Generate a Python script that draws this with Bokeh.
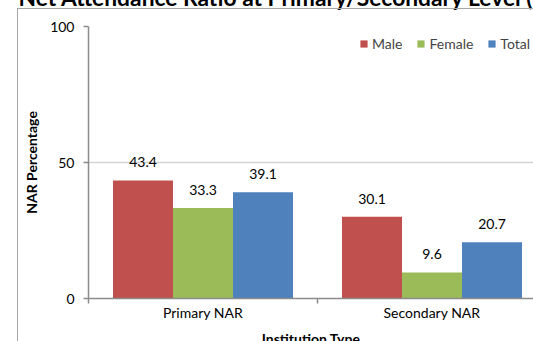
from bokeh.plotting import figure
from bokeh.models import (Range1d, FixedTicker, Legend, LegendItem, InlineStyleSheet, Title)
from bokeh.embed import file_html
from bokeh.resources import INLINE
from bokeh.core.properties import value

# ---- data ----
title = "Net Attendance Ratio at Primary/Secondary Level (NAR)"
categories = ["Primary NAR", "Secondary NAR"]
series = ["Male", "Female", "Total"]
male = [43.4, 30.1]
female = [33.3, 9.6]
total = [39.1, 20.7]
y_ticks = [0, 50, 100]
y_label = "NAR Percentage"
x_label = "Institution Type"

# ---- style ----
colors = ["#C0504D", "#9BBB59", "#4F81BD"]
FONT = "Lato"
FS = "14px"
AXIS_COLOR = "#8C8C8C"
bar_w = 0.262
offsets = [-bar_w, 0.0, bar_w]
visible_cats = 445 / 229  # plot area is cropped at the right edge
SHIFT = 37                 # the picture is cropped: top part of the chart lies above the window

p = figure(frame_width=445, frame_height=272, output_backend="svg", toolbar_location=None,
           x_range=Range1d(0, visible_cats), y_range=Range1d(0, 100),
           min_border_left=88, min_border_right=0, min_border_top=26 + SHIFT,
           min_border_bottom=0)
p.outline_line_color = None
p.background_fill_color = "white"
p.border_fill_color = "white"

p.add_layout(Title(text=title, align="left", offset=-70, standoff=31,
                   text_font=FONT, text_font_size="22.8px", text_font_style="bold",
                   text_color="black"), "above")

renderers = []
for vals, off, col in zip([male, female, total], offsets, colors):
    xs = [i + 0.5 + off for i in range(len(categories))]
    r = p.vbar(x=xs, top=vals, width=bar_w, fill_color=col, line_color=None)
    renderers.append(r)
    p.text(x=xs, y=vals, text=[f"{v:.1f}" for v in vals],
           text_align="center", text_baseline="middle", y_offset=-18,
           text_font=value(FONT), text_font_size=FS, text_color="black")

# y axis
p.yaxis.ticker = FixedTicker(ticks=y_ticks)
p.yaxis.major_tick_out = 5
p.yaxis.major_tick_in = 0
p.yaxis.minor_tick_out = 0
p.yaxis.minor_tick_in = 0
p.yaxis.axis_line_color = AXIS_COLOR
p.yaxis.axis_line_width = 1.5
p.yaxis.major_tick_line_color = AXIS_COLOR
p.yaxis.major_tick_line_width = 1.5
p.yaxis.major_label_standoff = 9
p.yaxis.major_label_text_font = FONT
p.yaxis.major_label_text_font_size = FS
p.yaxis.major_label_text_color = "black"
p.yaxis.axis_label = y_label
p.yaxis.axis_label_standoff = 7
p.yaxis.axis_label_text_font = FONT
p.yaxis.axis_label_text_font_size = FS
p.yaxis.axis_label_text_font_style = "bold"
p.yaxis.axis_label_text_color = "black"

# x axis
xt = [i + 0.5 for i in range(len(categories))]
p.xaxis.ticker = FixedTicker(ticks=xt, minor_ticks=list(range(len(categories) + 1)))
p.xaxis.major_label_overrides = dict(zip(xt, categories))
p.xaxis.major_tick_out = 0
p.xaxis.major_tick_in = 0
p.xaxis.minor_tick_out = 5
p.xaxis.minor_tick_in = 0
p.xaxis.minor_tick_line_color = AXIS_COLOR
p.xaxis.minor_tick_line_width = 1.5
p.xaxis.axis_line_color = AXIS_COLOR
p.xaxis.axis_line_width = 1.5
p.xaxis.major_label_standoff = 0
p.xaxis.major_label_text_font = FONT
p.xaxis.major_label_text_font_size = FS
p.xaxis.major_label_text_color = "black"
p.xaxis.axis_label = x_label
p.xaxis.axis_label_standoff = 6
p.xaxis.axis_label_text_font = FONT
p.xaxis.axis_label_text_font_size = FS
p.xaxis.axis_label_text_font_style = "bold"
p.xaxis.axis_label_text_color = "black"

p.xgrid.visible = False
p.ygrid.ticker = FixedTicker(ticks=y_ticks[1:])
p.ygrid.grid_line_color = "#D4D4D4"
p.ygrid.grid_line_width = 1.5

# legend
legend = Legend(items=[LegendItem(label=s, renderers=[r]) for s, r in zip(series, renderers)],
                orientation="horizontal", location=(271, 246), padding=0, margin=0,
                spacing=14, label_standoff=4, glyph_width=9, glyph_height=9,
                label_height=9, border_line_color=None, background_fill_alpha=0,
                label_text_font=FONT, label_text_font_size=FS)
p.add_layout(legend)

# window crop + chart area border (left and top edge of the Excel chart box)
p.styles = {"margin-top": f"-{SHIFT}px"}
p.stylesheets = [InlineStyleSheet(css=f"""
:host {{ position: relative; }}
:host::after {{ content: ""; position: absolute; left: 17px; top: {8 + SHIFT}px; right: 0; bottom: 0;
  border-left: 1.5px solid #A6A6A6; border-top: 1.5px solid #A6A6A6; pointer-events: none; }}
""")]

open("out.html", "w").write(file_html(p, INLINE))
